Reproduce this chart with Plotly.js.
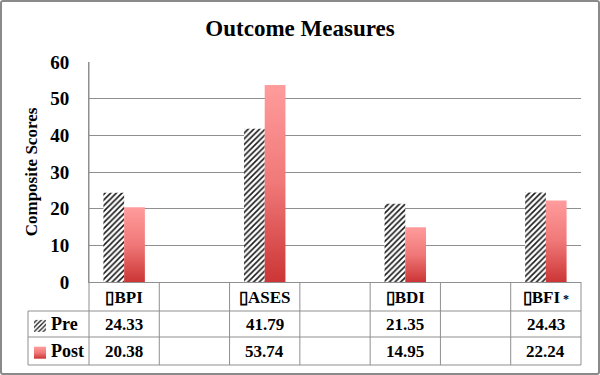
<!DOCTYPE html>
<html><head><meta charset="utf-8">
<script src="https://cdn.plot.ly/plotly-3.0.1.min.js"></script>
<style>
html,body{margin:0;padding:0;background:#fff;}
#wrap{position:relative;width:600px;height:375px;}
#chart{width:600px;height:375px;}
#frame{position:absolute;left:0;top:0;width:600px;height:375px;box-sizing:border-box;border:2px solid #8a8a8a;border-radius:3px;pointer-events:none;}
</style></head>
<body><div id="wrap"><div id="chart"></div><div id="frame"></div></div>
<script>
// ---- data ----
const measures = ["BPI", "ASES", "BDI", "BFI"];
const measureLabels = ["\u25AFBPI", "\u25AFASES", "\u25AFBDI", "\u25AFBFI<span style='font-size:12px'> *</span>"];
const spacers = ["s1", "s2", "s3"];
const preValues = [24.33, 41.79, 21.35, 24.43];
const postValues = [20.38, 53.74, 14.95, 22.24];
const seriesNames = ["Pre", "Post"];
const yTicks = [0, 10, 20, 30, 40, 50, 60];

// ---- geometry helpers (pixel -> paper) ----
const L = 89, R = 581, T = 62, B = 282, W = 600, H = 375;
const px = v => (v - L) / (R - L);
const py = v => (B - v) / (B - T);
const FONT = {family: "Liberation Serif, 'Times New Roman', serif", color: "#000", weight: "bold"};
const GRID = "#8f8f8f";

const catOrder = [];
measures.forEach((m, i) => { catOrder.push(m); if (i < spacers.length) catOrder.push(spacers[i]); });

const traces = [
  {type: "bar", name: seriesNames[0], x: measures, y: preValues, legendgroup: "a",
   marker: {color: "#fff", line: {width: 0}, pattern: {shape: "/", fgcolor: "#1a1a1a", bgcolor: "#fff", size: 4, solidity: 0.4}}},
  {type: "bar", name: seriesNames[1], x: measures, y: postValues, legendgroup: "b",
   marker: {color: "#e25a5a", line: {width: 0}}}
];

const shapes = [];
const line = (x0, y0, x1, y1) => shapes.push({type: "line", xref: "paper", yref: "paper",
  x0: px(x0), y0: py(y0), x1: px(x1), y1: py(y1), line: {color: GRID, width: 1}});
// horizontal table lines
[311, 337, 365].forEach(y => line(28, y, R, y));
// vertical table lines
line(28, 311, 28, 365);
for (let k = 0; k <= catOrder.length; k++) {
  const x = L + k * (R - L) / catOrder.length;
  line(x, k === 0 ? T : B, x, 365);
}

const annotations = [];
const rowY = [324, 351];
[preValues, postValues].forEach((vals, r) => {
  vals.forEach((v, i) => annotations.push({x: measures[i], xref: "x", y: py(rowY[r]), yref: "paper",
    text: v.toFixed(2), showarrow: false, yanchor: "middle", xanchor: "center", font: Object.assign({}, FONT, {size: 17})}));
  annotations.push({x: px(49), xref: "paper", y: py(rowY[r]), yref: "paper", text: seriesNames[r],
    showarrow: false, xanchor: "left", yanchor: "middle", font: Object.assign({}, FONT, {size: 18})});
});

const layout = {
  width: W, height: H,
  margin: {l: L, r: W - R, t: T, b: H - B, autoexpand: false},
  paper_bgcolor: "#fff", plot_bgcolor: "#fff",
  title: {text: "Outcome Measures", x: 0.5, xref: "container", y: 1 - 28 / H, yref: "container", yanchor: "middle",
          font: Object.assign({}, FONT, {size: 23})},
  barmode: "group", bargap: 0.41, bargroupgap: 0,
  xaxis: {type: "category", categoryorder: "array", categoryarray: catOrder,
          tickvals: measures, ticktext: measureLabels, ticks: "", showgrid: false,
          showline: true, linecolor: GRID, linewidth: 1, fixedrange: true, automargin: false,
          tickfont: Object.assign({}, FONT, {size: 17})},
  yaxis: {range: [0, 60], tickvals: yTicks, showgrid: true, gridcolor: GRID, gridwidth: 1,
          zeroline: false, showline: true, linecolor: GRID, ticks: "", ticklabelstandoff: 15, automargin: false,
          tickfont: Object.assign({}, FONT, {size: 19}),
          title: {text: "Composite Scores", standoff: 8, font: Object.assign({}, FONT, {size: 17})}},
  showlegend: true,
  legend: {x: px(20), xanchor: "left", y: py(309), yanchor: "top", traceorder: "grouped",
           tracegroupgap: 3, itemwidth: 30, bgcolor: "rgba(0,0,0,0)",
           font: {family: FONT.family, size: 16, color: "rgba(0,0,0,0)"}},
  shapes: shapes, annotations: annotations
};

function finish(gd) {
  const svg = gd.querySelector("svg.main-svg");
  const ns = "http://www.w3.org/2000/svg";
  let defs = svg.querySelector("defs");
  if (!defs) { defs = document.createElementNS(ns, "defs"); svg.insertBefore(defs, svg.firstChild); }
  if (!svg.querySelector("#postGrad")) {
    const g = document.createElementNS(ns, "linearGradient");
    g.setAttribute("id", "postGrad"); g.setAttribute("x1", "0"); g.setAttribute("y1", "0");
    g.setAttribute("x2", "0"); g.setAttribute("y2", "1");
    [["0", "#ff9c9c"], ["0.5", "#f07878"], ["1", "#cc3535"]].forEach(([o, c]) => {
      const s = document.createElementNS(ns, "stop"); s.setAttribute("offset", o); s.setAttribute("stop-color", c); g.appendChild(s);
    });
    defs.appendChild(g);
  }
  const barTraces = gd.querySelectorAll(".barlayer .trace");
  if (barTraces[1]) barTraces[1].querySelectorAll("path").forEach(p => p.style.fill = "url(#postGrad)");
  const legTraces = gd.querySelectorAll(".legend .traces");
  if (legTraces[1]) legTraces[1].querySelectorAll(".legendpoints path").forEach(p => p.style.fill = "url(#postGrad)");
  // series names are shown in the table's first column; legend keeps only its keys
  gd.querySelectorAll(".legend .legendtext").forEach(t => { t.textContent = ""; });
}

Plotly.newPlot("chart", traces, layout, {displayModeBar: false, staticPlot: true}).then(finish);
</script></body></html>
